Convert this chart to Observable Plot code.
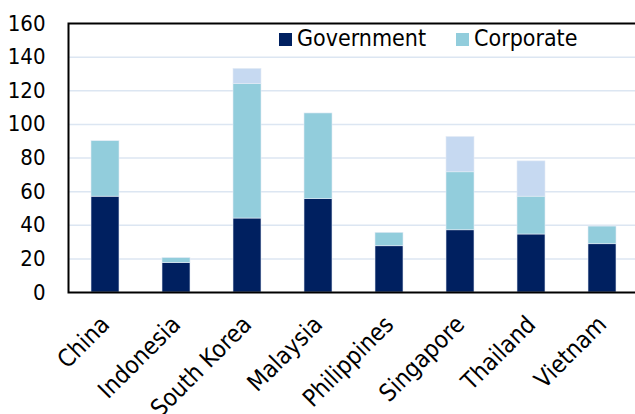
<!DOCTYPE html>
<html>
<head>
<meta charset="utf-8">
<script src="https://cdn.jsdelivr.net/npm/d3@7"></script>
<script src="https://cdn.jsdelivr.net/npm/@observablehq/plot@0.6"></script>
<style>
  html, body { margin: 0; padding: 0; background: white; }
  #wrap { position: relative; width: 635px; height: 414px; overflow: hidden; font-family: "DejaVu Sans Condensed", "DejaVu Sans", sans-serif; }
  #legend { position: absolute; left: 279px; top: 26px; display: flex; align-items: center; font-size: 23px; line-height: 24px; color: #000; }
  #legend .sw { width: 13px; height: 13px; margin-right: 5px; margin-top: 2px; }
  #legend .item { display: flex; align-items: center; margin-right: 30px; }
</style>
</head>
<body>
<div id="wrap"><div id="chart"></div><div id="legend"></div></div>
<script>
const countries = ["China", "Indonesia", "South Korea", "Malaysia", "Philippines", "Singapore", "Thailand", "Vietnam"];
const government = [57, 17.5, 44, 55.5, 27.5, 37, 34.5, 28.7];
const corporate  = [33, 3, 80, 51, 8, 34.5, 22.5, 10.5];
const other      = [0, 0, 9, 0, 0, 21, 21, 0];
const seriesNames = ["Government", "Corporate", "Other"];
const seriesColors = ["#002060", "#92CDDC", "#C6D9F1"];
const legendNames = ["Government", "Corporate"];
const yTicks = [0, 20, 40, 60, 80, 100, 120, 140, 160];
const gridTicks = [20, 40, 60, 80, 100, 120, 140];

const rows = [];
countries.forEach((c, i) => {
  rows.push({country: c, series: "Government", value: government[i]});
  rows.push({country: c, series: "Corporate", value: corporate[i]});
  rows.push({country: c, series: "Other", value: other[i]});
});

const plot = Plot.plot({
  width: 639,
  height: 414,
  marginLeft: 68,
  marginRight: 0,
  marginTop: 23,
  marginBottom: 122,
  style: {fontFamily: "'DejaVu Sans Condensed', 'DejaVu Sans', sans-serif", maxWidth: "none", color: "#000", background: "white"},
  x: {domain: countries, paddingInner: 0.6, paddingOuter: 0.3, label: null},
  y: {domain: [0, 160], label: null},
  color: {domain: seriesNames, range: seriesColors},
  marks: [
    Plot.gridY(gridTicks, {stroke: "#dce6f2", strokeOpacity: 1, strokeWidth: 1.5}),
    Plot.barY(rows, {x: "country", y: "value", fill: "series", order: seriesNames, stroke: "#e4ebf5", strokeWidth: 0.6}),
    Plot.axisY(yTicks, {tickSize: 0, tickPadding: 23, fontSize: 22, label: null}),
    Plot.axisX({tickSize: 0, tickPadding: 28, tickRotate: -45, fontSize: 24, label: null}),
    Plot.frame({stroke: "#000", strokeWidth: 2})
  ]
});
document.getElementById("chart").appendChild(plot);

const legend = document.getElementById("legend");
legendNames.forEach(name => {
  const item = document.createElement("div");
  item.className = "item";
  const sw = document.createElement("div");
  sw.className = "sw";
  sw.style.background = seriesColors[seriesNames.indexOf(name)];
  const t = document.createElement("span");
  t.textContent = name;
  item.appendChild(sw);
  item.appendChild(t);
  legend.appendChild(item);
});
</script>
</body>
</html>
